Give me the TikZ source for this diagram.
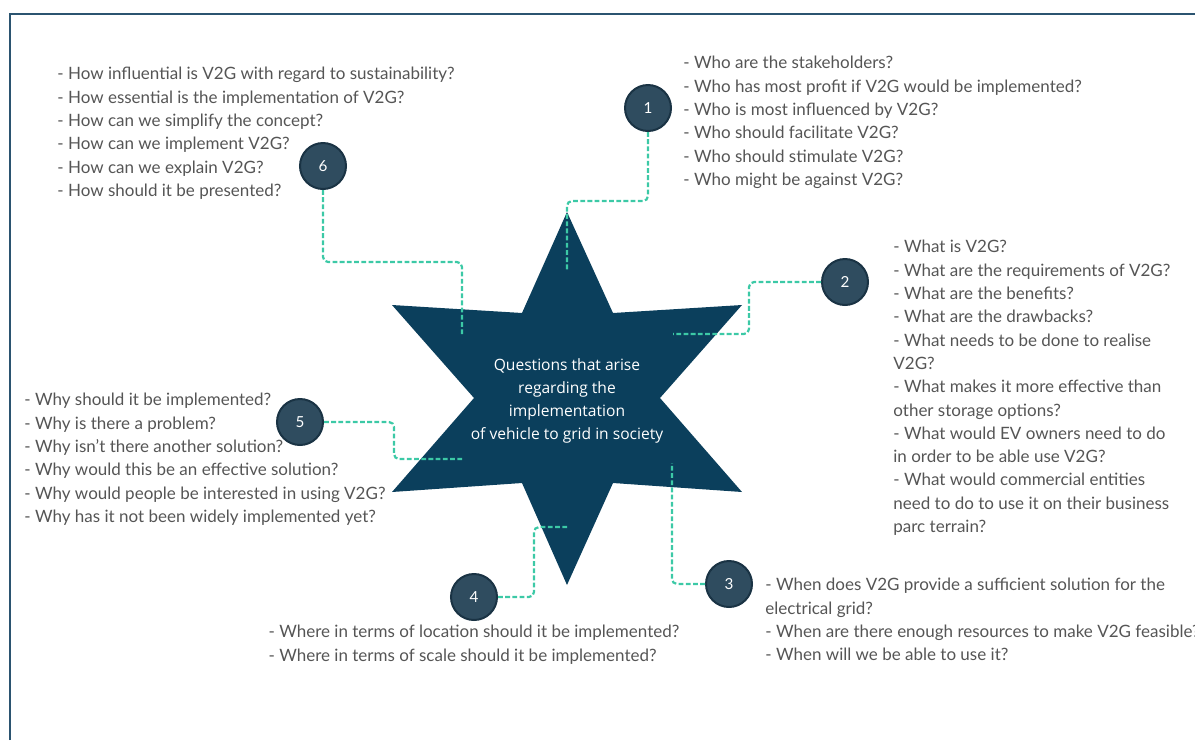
\documentclass[tikz,border=0pt]{standalone}
\usepackage{fontspec}
\setmainfont{Lato}
\newfontfamily\hubfont{Open Sans}
\usepackage{tikz}
\usetikzlibrary{positioning}
\definecolor{framecol}{HTML}{2B5470}
\definecolor{starblue}{HTML}{0B3F5C}
\definecolor{dotfill}{HTML}{2F4C5F}
\definecolor{dotline}{HTML}{1A3344}
\definecolor{linkteal}{HTML}{3CC9A6}
\definecolor{qgray}{HTML}{555555}

\begin{document}
\begin{tikzpicture}[x=0.5pt,y=-0.5pt,
  qnum/.style={circle,fill=dotfill,draw=dotline,line width=1pt,minimum size=23pt,
    inner sep=0pt,text=white,font=\fontsize{7.6}{8}\selectfont},
  qlist/.style={anchor=north west,inner sep=0pt,align=left,text=qgray,
    font=\fontsize{8.5}{11.65}\selectfont},
  qlink/.style={draw=linkteal,line width=1.1pt,dash pattern=on 2.4pt off 1.2pt,
    rounded corners=2.5pt}
]
\useasboundingbox (0,0) rectangle (1195,740);
\draw[framecol,line width=1.2pt] (10,740) -- (10,14) -- (1195,14);

\fill[starblue] (567,212) -- (613,313) -- (742,305) -- (660,398) -- (742,492)
  -- (613,483) -- (567,585) -- (522,483) -- (392,492) -- (474,398) -- (392,305)
  -- (522,313) -- cycle;
\node[align=center,text=white,font=\hubfont\fontsize{7.8}{11.5}\selectfont] (hub) at (567,401)
  {Questions that arise\\regarding the\\implementation\\of vehicle to grid in society};

\node[qnum] (c1) at (648,108) {1};
\node[qnum] (c2) at (845,282) {2};
\node[qnum] (c3) at (729,584) {3};
\node[qnum] (c4) at (474,597) {4};
\node[qnum] (c5) at (300,422) {5};
\node[qnum] (c6) at (323,166) {6};

\coordinate (e1) at (567,270);
\coordinate (e2) at (673,334);
\coordinate (e3) at (672,463);
\coordinate (e4) at (567,527);
\coordinate (e5) at (463,459);
\coordinate (e6) at (462,334);

\draw[qlink] (c1.south) -- ++(0,69) -| (e1);
\draw[qlink] (c2.west) -- ++(-72,0) |- (e2);
\draw[qlink] (c3.west) -| (e3);
\draw[qlink] (c4.east) -- ++(36,0) |- (e4);
\draw[qlink] (c5.east) -- ++(70,0) |- (e5);
\draw[qlink] (c6.south) -- ++(0,72) -| (e6);

\node[qlist] (q1) at (683,56) {- Who are the stakeholders?\\
  - Who has most profit if V2G would be implemented?\\
  - Who is most influenced by V2G?\\
  - Who should facilitate V2G?\\
  - Who should stimulate V2G?\\
  - Who might be against V2G?};
\node[qlist] (q2) at (893,240) {- What is V2G?\\
  - What are the requirements of V2G?\\
  - What are the benefits?\\
  - What are the drawbacks?\\
  - What needs to be done to realise\\
  V2G?\\
  - What makes it more effective than\\
  other storage options?\\
  - What would EV owners need to do\\
  in order to be able use V2G?\\
  - What would commercial entities\\
  need to do to use it on their business\\
  parc terrain?};
\node[qlist] (q3) at (765,578) {- When does V2G provide a sufficient solution for the\\
  electrical grid?\\
  - When are there enough resources to make V2G feasible?\\
  - When will we be able to use it?};
\node[qlist,anchor=north,below=2pt of c4] (q4) {- Where in terms of location should it be implemented?\\
  - Where in terms of scale should it be implemented?};
\node[qlist] (q5) at (24,393) {- Why should it be implemented?\\
  - Why is there a problem?\\
  - Why isn't there another solution?\\
  - Why would this be an effective solution?\\
  - Why would people be interested in using V2G?\\
  - Why has it not been widely implemented yet?};
\node[qlist] (q6) at (57,67) {- How influential is V2G with regard to sustainability?\\
  - How essential is the implementation of V2G?\\
  - How can we simplify the concept?\\
  - How can we implement V2G?\\
  - How can we explain V2G?\\
  - How should it be presented?};
\end{tikzpicture}
\end{document}
